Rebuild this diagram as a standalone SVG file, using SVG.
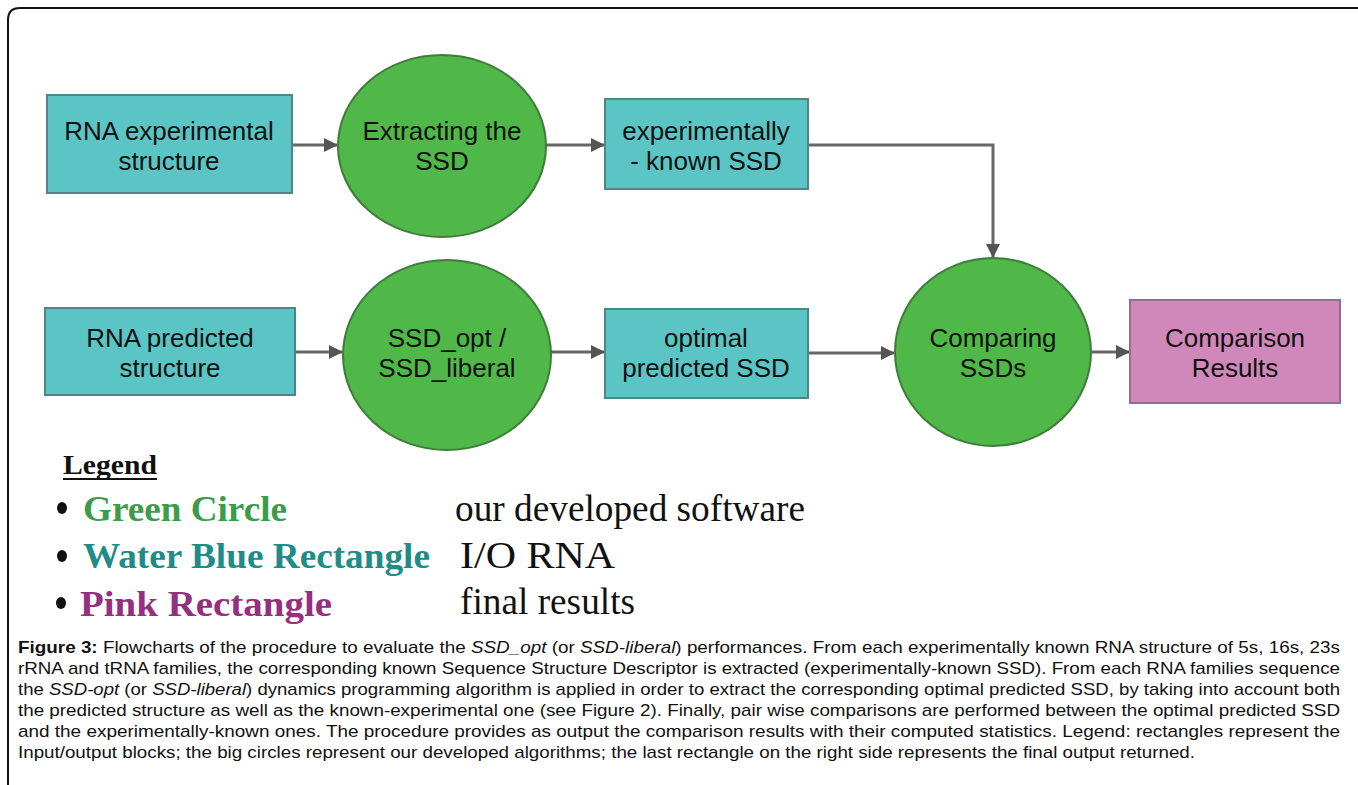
<svg xmlns="http://www.w3.org/2000/svg" width="1358" height="785" viewBox="0 0 1358 785">
  <style>
    .io { fill: #5ac5c4; stroke: #4d8686; stroke-width: 2; }
    .proc { fill: #4fb848; stroke: #3e7d3a; stroke-width: 2; }
    .out { fill: #d088bb; stroke: #9a6a8c; stroke-width: 2; }
    .lbl { font-family: "Liberation Sans", Arial, sans-serif; font-size: 26px; fill: #111; text-anchor: middle; }
    .conn { fill: none; stroke: #666; stroke-width: 3; }
    .leg { font-family: "Liberation Serif", "Times New Roman", serif; }
    .cap { font-family: "Liberation Sans", Arial, sans-serif; font-size: 17px; fill: #111; }
  </style>
  <defs>
    <marker id="arrow" viewBox="0 0 14 14" refX="13" refY="7" markerWidth="14" markerHeight="14" markerUnits="userSpaceOnUse" orient="auto">
      <path d="M0,0 L14,7 L0,14 Z" fill="#555"/>
    </marker>
  </defs>

  <rect width="1358" height="785" fill="#fff"/>
  <!-- frame -->
  <path d="M8,790 V20 Q8,8 20,8 H1365" fill="none" stroke="#111" stroke-width="2"/>

  <!-- connectors -->
  <g id="connectors">
    <line class="conn" x1="293" y1="145" x2="337" y2="145" marker-end="url(#arrow)"/>
    <line class="conn" x1="546" y1="145" x2="604" y2="145" marker-end="url(#arrow)"/>
    <polyline class="conn" points="808,145 993,145 993,257" marker-end="url(#arrow)"/>
    <line class="conn" x1="295" y1="352" x2="342" y2="352" marker-end="url(#arrow)"/>
    <line class="conn" x1="551" y1="352" x2="604" y2="352" marker-end="url(#arrow)"/>
    <line class="conn" x1="808" y1="353" x2="894" y2="353" marker-end="url(#arrow)"/>
    <line class="conn" x1="1092" y1="352" x2="1129" y2="352" marker-end="url(#arrow)"/>
  </g>

  <g id="rna-experimental">
    <rect class="io" x="47" y="95" width="245" height="98"/>
    <text class="lbl" x="169" y="140">RNA experimental</text>
    <text class="lbl" x="169" y="170">structure</text>
  </g>

  <g id="extracting-ssd">
    <ellipse class="proc" cx="442" cy="146" rx="104" ry="91"/>
    <text class="lbl" x="442" y="140">Extracting the</text>
    <text class="lbl" x="442" y="170">SSD</text>
  </g>

  <g id="known-ssd">
    <rect class="io" x="605" y="99" width="203" height="90"/>
    <text class="lbl" x="706" y="140">experimentally</text>
    <text class="lbl" x="706" y="170">- known SSD</text>
  </g>

  <g id="rna-predicted">
    <rect class="io" x="45" y="308" width="250" height="87"/>
    <text class="lbl" x="170" y="347">RNA predicted</text>
    <text class="lbl" x="170" y="377">structure</text>
  </g>

  <g id="ssd-opt">
    <ellipse class="proc" cx="447" cy="355" rx="104" ry="95"/>
    <text class="lbl" x="447" y="347">SSD_opt /</text>
    <text class="lbl" x="447" y="377">SSD_liberal</text>
  </g>

  <g id="optimal-ssd">
    <rect class="io" x="605" y="309" width="203" height="89"/>
    <text class="lbl" x="706" y="347">optimal</text>
    <text class="lbl" x="706" y="377">predicted SSD</text>
  </g>

  <g id="comparing-ssds">
    <ellipse class="proc" cx="993" cy="352" rx="98" ry="94"/>
    <text class="lbl" x="993" y="347">Comparing</text>
    <text class="lbl" x="993" y="377">SSDs</text>
  </g>

  <g id="comparison-results">
    <rect class="out" x="1130" y="300" width="210" height="103"/>
    <text class="lbl" x="1235" y="347">Comparison</text>
    <text class="lbl" x="1235" y="377">Results</text>
  </g>

  <!-- legend -->
  <g id="legend">
    <text class="leg" x="63" y="474" font-size="28" font-weight="bold" fill="#111" textLength="94" lengthAdjust="spacingAndGlyphs">Legend</text>
    <line x1="63" y1="479" x2="157" y2="479" stroke="#111" stroke-width="2"/>
    <ellipse cx="62" cy="508" rx="5" ry="6" fill="#111"/>
    <ellipse cx="62" cy="556" rx="5" ry="6" fill="#111"/>
    <ellipse cx="61" cy="603" rx="5" ry="6" fill="#111"/>
    <text class="leg" x="83" y="521" font-size="36" font-weight="bold" fill="#3c9c4a" textLength="204" lengthAdjust="spacingAndGlyphs">Green Circle</text>
    <text class="leg" x="83" y="568" font-size="36" font-weight="bold" fill="#1e8c87" textLength="347" lengthAdjust="spacingAndGlyphs">Water Blue Rectangle</text>
    <text class="leg" x="80" y="616" font-size="36" font-weight="bold" fill="#952f7f" textLength="252" lengthAdjust="spacingAndGlyphs">Pink Rectangle</text>
    <text class="leg" x="455" y="521" font-size="37" fill="#111" textLength="350" lengthAdjust="spacingAndGlyphs">our developed software</text>
    <text class="leg" x="460" y="568" font-size="37" fill="#111" textLength="155" lengthAdjust="spacingAndGlyphs">I/O RNA</text>
    <text class="leg" x="460" y="614" font-size="37" fill="#111" textLength="175" lengthAdjust="spacingAndGlyphs">final results</text>
  </g>

  <!-- caption -->
  <g id="caption">
    <text class="cap" x="18" y="653" textLength="1322" lengthAdjust="spacingAndGlyphs"><tspan font-weight="bold">Figure 3:</tspan> Flowcharts of the procedure to evaluate the <tspan font-style="italic">SSD_opt</tspan> (or <tspan font-style="italic">SSD-liberal</tspan>) performances. From each experimentally known RNA structure of 5s, 16s, 23s</text>
    <text class="cap" x="18" y="674" textLength="1322" lengthAdjust="spacingAndGlyphs">rRNA and tRNA families, the corresponding known Sequence Structure Descriptor is extracted (experimentally-known SSD). From each RNA families sequence</text>
    <text class="cap" x="18" y="695" textLength="1322" lengthAdjust="spacingAndGlyphs">the <tspan font-style="italic">SSD-opt</tspan> (or <tspan font-style="italic">SSD-liberal</tspan>) dynamics programming algorithm is applied in order to extract the corresponding optimal predicted SSD, by taking into account both</text>
    <text class="cap" x="18" y="716" textLength="1322" lengthAdjust="spacingAndGlyphs">the predicted structure as well as the known-experimental one (see Figure 2). Finally, pair wise comparisons are performed between the optimal predicted SSD</text>
    <text class="cap" x="18" y="737" textLength="1322" lengthAdjust="spacingAndGlyphs">and the experimentally-known ones. The procedure provides as output the comparison results with their computed statistics. Legend: rectangles represent the</text>
    <text class="cap" x="18" y="758" textLength="1177" lengthAdjust="spacingAndGlyphs">Input/output blocks; the big circles represent our developed algorithms; the last rectangle on the right side represents the final output returned.</text>
  </g>
</svg>
